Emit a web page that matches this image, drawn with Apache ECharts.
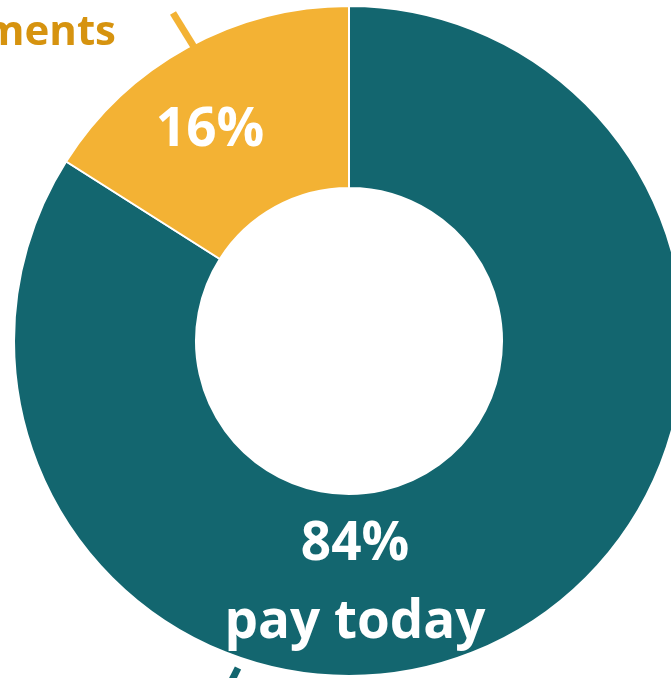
<!DOCTYPE html>
<html>
<head>
<meta charset="utf-8">
<style>
  html, body { margin: 0; padding: 0; background: #ffffff; }
  #chart { width: 671px; height: 678px; }
</style>
<script src="https://cdn.jsdelivr.net/npm/echarts@6/dist/echarts.min.js"></script>
</head>
<body>
<div id="chart"></div>
<script>
// Share of customers by payment choice
const categories = ['pay today', 'pay in installments'];
const shares = [84, 16];
const colors = ['#13666f', '#f3b234'];
const outerLabelColors = ['#13666f', '#d6930f'];

const FONT = '"Open Sans", Lato, sans-serif';
const CX = 349, CY = 341, R_IN = 153, R_OUT = 335;

const data = categories.map((name, i) => ({
  name: name,
  value: shares[i],
  itemStyle: { color: colors[i] }
}));

// Positions of the in-ring labels (pixels)
const innerLabelPos = [
  { x: 355, y: 584 },
  { x: 210, y: 131 }
];

// Outer call-out labels
const outerLabelPos = [
  { x: 200, y: 730, align: 'right' },
  { x: 116, y: 33, align: 'right' }
];

// Leader lines joining the ring to the call-outs
const leaderLines = [
  [[238, 668], [226, 692]],
  [[194, 47], [173, 13]]
];

const chart = echarts.init(document.getElementById('chart'), null, { renderer: 'canvas' });

chart.setOption({
  animation: false,
  backgroundColor: '#ffffff',
  graphic: {
    elements: leaderLines.map((pts, i) => ({
      type: 'line',
      silent: true,
      z: 100,
      shape: { x1: pts[0][0], y1: pts[0][1], x2: pts[1][0], y2: pts[1][1] },
      style: { stroke: colors[i], lineWidth: 7 }
    }))
  },
  series: [
    {
      type: 'pie',
      center: [CX, CY],
      radius: [R_IN, R_OUT],
      startAngle: 90,
      clockwise: true,
      silent: true,
      itemStyle: { borderColor: '#ffffff', borderWidth: 2 },
      label: {
        show: true,
        position: 'inside',
        color: '#ffffff',
        fontFamily: FONT,
        fontWeight: 'bold',
        fontSize: 53,
        overflow: 'none',
        formatter: function (p) {
          if (p.dataIndex === 0) {
            return '{pct|' + p.value + '%}\n{name|' + p.name + '}';
          }
          return '{pct|' + p.value + '%}';
        },
        rich: {
          pct: { color: '#ffffff', fontFamily: FONT, fontWeight: 'bold', fontSize: 53, lineHeight: 78 },
          name: { color: '#ffffff', fontFamily: FONT, fontWeight: 'bold', fontSize: 53, lineHeight: 78 }
        }
      },
      labelLine: { show: false },
      labelLayout: function (p) {
        const pos = innerLabelPos[p.dataIndex];
        return { x: pos.x, y: pos.y, align: 'center', verticalAlign: 'middle' };
      },
      data: data
    },
    {
      type: 'pie',
      center: [CX, CY],
      radius: [R_IN, R_OUT],
      startAngle: 90,
      clockwise: true,
      silent: true,
      itemStyle: { color: 'rgba(0,0,0,0)' },
      label: {
        show: true,
        position: 'outside',
        fontFamily: FONT,
        fontWeight: 'bold',
        fontSize: 42,
        overflow: 'none',
        formatter: '{b}'
      },
      labelLine: { show: false },
      labelLayout: function (p) {
        const pos = outerLabelPos[p.dataIndex];
        return { x: pos.x, y: pos.y, align: pos.align, verticalAlign: 'middle' };
      },
      data: categories.map((name, i) => ({
        name: name,
        value: shares[i],
        label: { color: outerLabelColors[i], overflow: 'none' }
      }))
    }
  ]
});
</script>
</body>
</html>
